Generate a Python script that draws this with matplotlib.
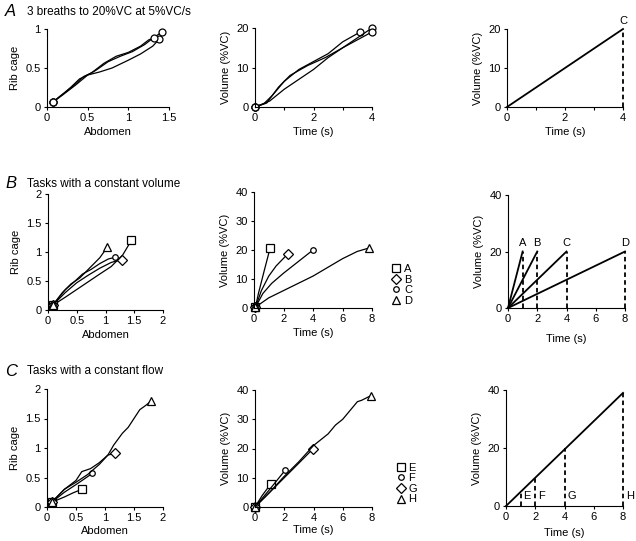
import matplotlib.pyplot as plt
from matplotlib.lines import Line2D

plt.rcParams['font.family'] = ['Liberation Sans', 'DejaVu Sans']
plt.rcParams['font.size'] = 8

# ---- data ----
# A: 3 breaths to 20%VC at 5%VC/s
a1_x = [[0.07, 0.2, 0.3, 0.4, 0.5, 0.6, 0.75, 0.9, 1.05, 1.2, 1.3, 1.41],
        [0.07, 0.2, 0.35, 0.5, 0.65, 0.8, 1.0, 1.15, 1.3, 1.38],
        [0.07, 0.15, 0.3, 0.45, 0.55, 0.7, 0.85, 1.0, 1.15, 1.25, 1.32]]
a1_y = [[0.06, 0.17, 0.26, 0.36, 0.41, 0.47, 0.58, 0.65, 0.71, 0.8, 0.88, 0.96],
        [0.06, 0.16, 0.28, 0.41, 0.45, 0.5, 0.6, 0.68, 0.78, 0.87],
        [0.06, 0.13, 0.25, 0.39, 0.44, 0.56, 0.65, 0.7, 0.78, 0.86, 0.89]]
a2_t = [[0, 0.3, 0.6, 1.0, 1.5, 2.0, 2.5, 3.0, 3.6],
        [0, 0.5, 1.0, 1.5, 2, 2.5, 3, 3.5, 4],
        [0, 0.4, 0.8, 1.2, 1.8, 2.4, 3.0, 3.5, 4.0]]
a2_v = [[0, 0.8, 3, 6.5, 9.5, 11.5, 13.5, 16.5, 19],
        [0, 1.5, 4.5, 7, 9.5, 12.5, 15, 17.5, 20],
        [0, 1, 5, 8, 10.5, 12.5, 15, 17, 19]]
a3_t = [0, 4]
a3_v = [0, 20]

# B: tasks with a constant volume
b_labels = ['A', 'B', 'C', 'D']
b1_x = [[0.08, 0.3, 0.6, 0.9, 1.1, 1.3, 1.45],
        [0.08, 0.3, 0.5, 0.7, 0.9, 1.1, 1.28],
        [0.08, 0.3, 0.45, 0.6, 0.75, 0.9, 1.05, 1.17],
        [0.08, 0.25, 0.4, 0.55, 0.65, 0.8, 0.9, 1.03]]
b1_y = [[0.08, 0.22, 0.42, 0.62, 0.75, 0.95, 1.2],
        [0.08, 0.3, 0.47, 0.6, 0.72, 0.82, 0.87],
        [0.08, 0.35, 0.48, 0.62, 0.7, 0.8, 0.88, 0.91],
        [0.08, 0.3, 0.45, 0.55, 0.65, 0.8, 0.9, 1.08]]
b2_t = [[0.1, 0.3, 0.7, 1.1],
        [0.1, 0.5, 1.0, 1.5, 2.3],
        [0.1, 0.6, 1.2, 2, 3, 4],
        [0.1, 1, 2, 3, 4, 5, 6, 7, 7.8]]
b2_v = [[0.3, 5, 13, 20.8],
        [0.3, 6, 11, 14.5, 18.7],
        [0.3, 5, 8.5, 12, 16, 20],
        [0.3, 3.5, 6, 8.5, 11, 14, 17, 19.5, 20.7]]
b3_t = [1, 2, 4, 8]
b3_v = [20, 20, 20, 20]

# C: tasks with a constant flow
c_labels = ['E', 'F', 'G', 'H']
c1_x = [[0.08, 0.3, 0.45, 0.6],
        [0.08, 0.3, 0.5, 0.65, 0.78],
        [0.08, 0.3, 0.5, 0.7, 0.9, 1.05, 1.17],
        [0.08, 0.3, 0.5, 0.6, 0.75, 0.9, 1.05, 1.15, 1.3, 1.4, 1.5, 1.6, 1.7, 1.8]]
c1_y = [[0.08, 0.17, 0.24, 0.3],
        [0.08, 0.25, 0.38, 0.48, 0.57],
        [0.08, 0.3, 0.42, 0.55, 0.72, 0.88, 0.91],
        [0.08, 0.3, 0.45, 0.6, 0.65, 0.75, 0.88, 1.05, 1.25, 1.35, 1.5, 1.65, 1.72, 1.8]]
c2_t = [[0, 0.5, 1.1],
        [0, 1, 2.05],
        [0, 1, 2, 3, 3.95],
        [0, 1, 2, 3, 4, 4.5, 5, 5.5, 6, 6.5, 7, 7.3, 7.9]]
c2_v = [[0, 4, 8],
        [0, 6, 12.5],
        [0, 5, 10, 15, 19.8],
        [0, 5, 10.5, 15.5, 21, 23, 25, 28, 30, 33, 36, 36.5, 38]]
c3_t = [1, 2, 4, 8]
c3_v = [5, 10, 20, 39]

b_markers = ['s', 'D', 'o', '^']
b_msizes = [5.5, 5, 4, 5.5]
c_markers = ['s', 'o', 'D', '^']
c_msizes = [5.5, 4, 5, 5.5]

W, H = 636, 541
fig = plt.figure(figsize=(W / 100, H / 100), dpi=100)


def make_ax(l, r, t, b):
    ax = fig.add_axes([l / W, 1 - b / H, (r - l) / W, (b - t) / H])
    ax.spines['top'].set_visible(False)
    ax.spines['right'].set_visible(False)
    ax.tick_params(direction='out', length=2.5, width=0.8, labelsize=8, pad=2)
    return ax


mk = dict(mfc='white', mec='black', mew=0.9, color='black', lw=0.9, clip_on=False)
dash = dict(lw=1.3, dashes=(2.5, 1.8), clip_on=False)

# ---- row A ----
ax = make_ax(47, 169, 29, 107)
for x, y in zip(a1_x, a1_y):
    ax.plot(x, y, 'k-', lw=0.9)
    ax.plot([x[0], x[-1]], [y[0], y[-1]], 'o', ms=5, **mk)
ax.set_xlim(0, 1.5)
ax.set_ylim(0, 1)
ax.set_xticks([0, 0.5, 1, 1.5])
ax.set_xticklabels(['0', '0.5', '1', '1.5'])
ax.set_yticks([0, 0.5, 1])
ax.set_yticklabels(['0', '0.5', '1'])
ax.set_xlabel('Abdomen', labelpad=3)
ax.set_ylabel('Rib cage', labelpad=4)

ax = make_ax(255, 372, 28, 107)
for t, v in zip(a2_t, a2_v):
    ax.plot(t, v, 'k-', lw=0.9, clip_on=False)
    ax.plot([t[0], t[-1]], [v[0], v[-1]], 'o', ms=5, **mk)
ax.set_xlim(0, 4)
ax.set_ylim(0, 20)
ax.set_xticks([0, 1, 2, 3, 4])
ax.set_xticklabels(['0', '', '2', '', '4'])
ax.set_yticks([0, 10, 20])
ax.set_xlabel('Time (s)', labelpad=3)
ax.set_ylabel('Volume (%VC)', labelpad=4)

ax = make_ax(507, 623, 29, 107)
ax.plot(a3_t, a3_v, 'k-', lw=1.3, clip_on=False)
ax.plot([a3_t[-1], a3_t[-1]], [0, a3_v[-1]], 'k--', **dash)
ax.text(a3_t[-1], a3_v[-1] + 0.8, 'C', ha='center', va='bottom', fontsize=8)
ax.set_xlim(0, 4)
ax.set_ylim(0, 20)
ax.set_xticks([0, 1, 2, 3, 4])
ax.set_xticklabels(['0', '', '2', '', '4'])
ax.set_yticks([0, 10, 20])
ax.set_xlabel('Time (s)', labelpad=3)
ax.set_ylabel('Volume (%VC)', labelpad=4)

# ---- row B ----
ax = make_ax(48, 163, 194, 310)
for x, y, m, s in zip(b1_x, b1_y, b_markers, b_msizes):
    ax.plot(x, y, 'k-', lw=0.9)
    ax.plot([x[0], x[-1]], [y[0], y[-1]], m, ms=s, **mk)
ax.set_xlim(0, 2)
ax.set_ylim(0, 2)
ax.set_xticks([0, 0.5, 1, 1.5, 2])
ax.set_xticklabels(['0', '0.5', '1', '1.5', '2'])
ax.set_yticks([0, 0.5, 1, 1.5, 2])
ax.set_yticklabels(['0', '0.5', '1', '1.5', '2'])
ax.set_xlabel('Abdomen', labelpad=3)
ax.set_ylabel('Rib cage', labelpad=4)

ax = make_ax(254, 372, 192, 308)
handles = []
for t, v, m, s, lab in zip(b2_t, b2_v, b_markers, b_msizes, b_labels):
    ax.plot(t, v, 'k-', lw=0.9)
    ax.plot([t[0], t[-1]], [v[0], v[-1]], m, ms=s, **mk)
    handles.append(Line2D([], [], ls='none', marker=m, ms=s, mfc='white',
                          mec='black', mew=0.9, label=lab))
ax.set_xlim(0, 8)
ax.set_ylim(0, 40)
ax.set_xticks([0, 2, 4, 6, 8])
ax.set_yticks([0, 10, 20, 30, 40])
ax.set_xlabel('Time (s)', labelpad=3)
ax.set_ylabel('Volume (%VC)', labelpad=4)
ax.legend(handles=handles, loc='center left', bbox_to_anchor=(1.13, 0.2),
          frameon=False, handlelength=0.6, handletextpad=0.4,
          labelspacing=0.05, borderpad=0, fontsize=8)

ax = make_ax(508, 625, 195, 308)
for t, v, lab in zip(b3_t, b3_v, b_labels):
    ax.plot([0, t], [0, v], 'k-', lw=1.3, clip_on=False)
    ax.plot([t, t], [0, v], 'k--', **dash)
    ax.text(t, v + 1.2, lab, ha='center', va='bottom', fontsize=8)
ax.set_xlim(0, 8)
ax.set_ylim(0, 40)
ax.set_xticks([0, 2, 4, 6, 8])
ax.set_yticks([0, 20, 40])
ax.set_xlabel('Time (s)', labelpad=7)
ax.set_ylabel('Volume (%VC)', labelpad=4)

# ---- row C ----
ax = make_ax(47, 163, 389, 507)
for x, y, m, s in zip(c1_x, c1_y, c_markers, c_msizes):
    ax.plot(x, y, 'k-', lw=0.9)
    ax.plot([x[0], x[-1]], [y[0], y[-1]], m, ms=s, **mk)
ax.set_xlim(0, 2)
ax.set_ylim(0, 2)
ax.set_xticks([0, 0.5, 1, 1.5, 2])
ax.set_xticklabels(['0', '0.5', '1', '1.5', '2'])
ax.set_yticks([0, 0.5, 1, 1.5, 2])
ax.set_yticklabels(['0', '0.5', '1', '1.5', '2'])
ax.set_xlabel('Abdomen', labelpad=2)
ax.set_ylabel('Rib cage', labelpad=4)

ax = make_ax(255, 372, 390, 507)
handles = []
for t, v, m, s, lab in zip(c2_t, c2_v, c_markers, c_msizes, c_labels):
    ax.plot(t, v, 'k-', lw=0.9)
    ax.plot([t[0], t[-1]], [v[0], v[-1]], m, ms=s, **mk)
    handles.append(Line2D([], [], ls='none', marker=m, ms=s, mfc='white',
                          mec='black', mew=0.9, label=lab))
ax.set_xlim(0, 8)
ax.set_ylim(0, 40)
ax.set_xticks([0, 2, 4, 6, 8])
ax.set_yticks([0, 10, 20, 30, 40])
ax.set_xlabel('Time (s)', labelpad=1)
ax.set_ylabel('Volume (%VC)', labelpad=4)
ax.legend(handles=handles, loc='center left', bbox_to_anchor=(1.17, 0.2),
          frameon=False, handlelength=0.6, handletextpad=0.4,
          labelspacing=0.05, borderpad=0, fontsize=8)

ax = make_ax(506, 623, 390, 506)
ax.plot([0, c3_t[-1]], [0, c3_v[-1]], 'k-', lw=1.3, clip_on=False)
for t, v, lab in zip(c3_t, c3_v, c_labels):
    ax.plot([t, t], [0, v], 'k--', **dash)
    ax.text(t + 0.2, 3.5, lab, ha='left', va='center', fontsize=8)
ax.set_xlim(0, 8)
ax.set_ylim(0, 40)
ax.set_xticks([0, 2, 4, 6, 8])
ax.set_yticks([0, 20, 40])
ax.set_xlabel('Time (s)', labelpad=4)
ax.set_ylabel('Volume (%VC)', labelpad=4)

# ---- section titles ----
for y, letter, title in [(12, 'A', '3 breaths to 20%VC at 5%VC/s'),
                         (184, 'B', 'Tasks with a constant volume'),
                         (371, 'C', 'Tasks with a constant flow')]:
    fig.text(5 / W, 1 - y / H, letter, fontsize=12, style='italic',
             ha='left', va='center')
    fig.text(27 / W, 1 - y / H, title, fontsize=8.5, ha='left', va='center')

fig.savefig('out.png', dpi=100)
